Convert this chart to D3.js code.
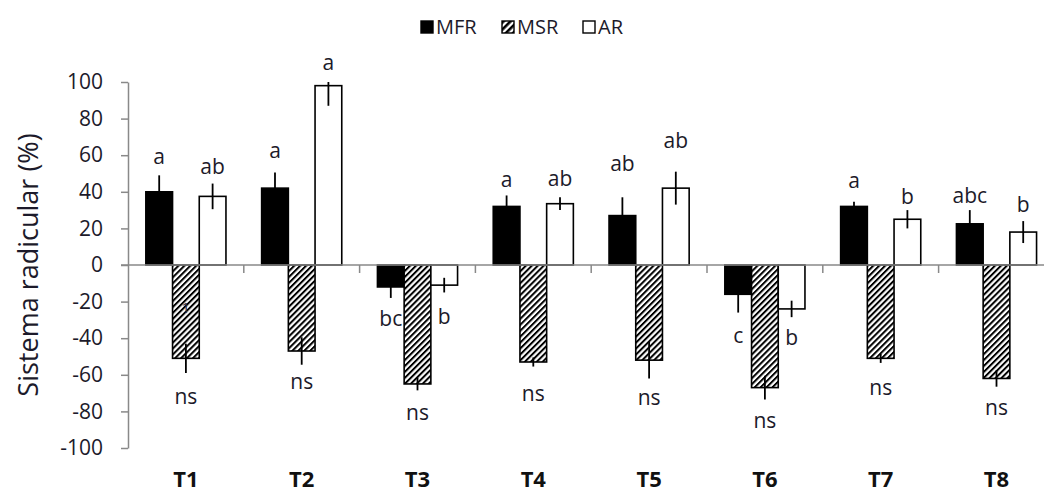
<!DOCTYPE html>
<html>
<head>
<meta charset="utf-8">
<script src="https://cdnjs.cloudflare.com/ajax/libs/d3/7.8.5/d3.min.js"></script>
<style>
  html, body { margin: 0; padding: 0; background: #fff; }
  svg { display: block; font-family: "Open Sans", sans-serif; }
</style>
</head>
<body>
<svg id="chart" width="1044" height="494"></svg>
<script>
// treatments and series
var categories = ["T1", "T2", "T3", "T4", "T5", "T6", "T7", "T8"];
var seriesNames = ["MFR", "MSR", "AR"];

// bar values (%)
var mfrValues = [40, 42, -12, 32, 27, -16, 32, 22.5];
var msrValues = [-51, -47, -65, -53, -52, -67, -51, -62];
var arValues = [37.5, 98, -11, 33.5, 42, -24, 25, 18];

// error bar half-lengths
var mfrErrors = [9, 8.5, 6, 6, 10, 10, 2.5, 7.5];
var msrErrors = [8, 7.5, 3.5, 2.5, 10, 6.5, 2.5, 4.5];
var arErrors = [7, 11, 4, 3.5, 9, 4.5, 5, 6];

// significance letters and the value height where each one sits
var mfrLetters = ["a", "a", "bc", "a", "ab", "c", "a", "abc"];
var msrLetters = ["ns", "ns", "ns", "ns", "ns", "ns", "ns", "ns"];
var arLetters = ["ab", "a", "b", "ab", "ab", "b", "b", "b"];
var mfrLetterAt = [55.3, 58.6, -33.4, 42.4, 51.5, -42.6, 42, 34.1];
var msrLetterAt = [-76.2, -67.9, -84.5, -74.5, -76.3, -89.2, -70.8, -81.8];
var arLetterAt = [49.9, 106.8, -32.5, 43.3, 63.9, -43.8, 33.6, 29.2];

var yTicks = [-100, -80, -60, -40, -20, 0, 20, 40, 60, 80, 100];

var svg = d3.select("#chart");

var plotLeft = 128, plotTop = 82, plotBottom = 448, step = 115.8;

// hatch pattern for MSR
var defs = svg.append("defs");
defs.append("pattern")
	.attr("id", "hatch")
	.attr("patternUnits", "userSpaceOnUse")
	.attr("width", 4.2).attr("height", 4.2)
	.attr("patternTransform", "rotate(45)")
	.call(function(p) {
		p.append("rect").attr("width", 4.2).attr("height", 4.2).attr("fill", "#fff");
		p.append("rect").attr("width", 2).attr("height", 4.2).attr("fill", "#000");
	});
defs.append("pattern")
	.attr("id", "hatchLegend")
	.attr("patternUnits", "userSpaceOnUse")
	.attr("width", 5).attr("height", 5)
	.attr("patternTransform", "rotate(45)")
	.call(function(p) {
		p.append("rect").attr("width", 5).attr("height", 5).attr("fill", "#fff");
		p.append("rect").attr("width", 2.6).attr("height", 5).attr("fill", "#000");
	});
defs.append("clipPath").attr("id", "plotClip")
	.append("rect").attr("x", plotLeft).attr("y", plotTop).attr("width", 1000).attr("height", plotBottom - plotTop);

// scales
var x = d3.scaleBand().domain(categories).range([plotLeft, plotLeft + step * categories.length]).padding(0);
var x1 = d3.scaleBand().domain(seriesNames).range([0, x.bandwidth()]).paddingInner(0).paddingOuter(0.668);
var y = d3.scaleLinear().domain([-100, 100]).range([plotBottom, plotTop]);

var series = [
	{ name: "MFR", values: mfrValues, errors: mfrErrors, letters: mfrLetters, at: mfrLetterAt, fill: "#000" },
	{ name: "MSR", values: msrValues, errors: msrErrors, letters: msrLetters, at: msrLetterAt, fill: "url(#hatch)" },
	{ name: "AR", values: arValues, errors: arErrors, letters: arLetters, at: arLetterAt, fill: "#fff" }
];

// y axis (plain hyphen minus like the original)
var yAxis = svg.append("g")
	.attr("transform", "translate(" + plotLeft + ",0)")
	.call(d3.axisLeft(y).tickValues(yTicks).tickFormat(function(d) { return String(d); })
		.tickSize(7).tickSizeOuter(0).tickPadding(18));
yAxis.select(".domain").attr("stroke", "#898989").attr("stroke-width", 1.5);
yAxis.selectAll(".tick line").attr("stroke", "#898989").attr("stroke-width", 1.5);
yAxis.selectAll(".tick text")
	.attr("font-family", "Open Sans").attr("font-size", 21).attr("fill", "#1c1a2a");

svg.append("text")
	.attr("transform", "translate(27," + y(0) + ") rotate(-90)")
	.attr("text-anchor", "middle")
	.attr("dominant-baseline", "central")
	.attr("font-size", 27)
	.attr("fill", "#1c1a2a")
	.text("Sistema radicular (%)");

// bars
var groups = svg.append("g").selectAll("g")
	.data(categories)
	.join("g")
	.attr("transform", function(d) { return "translate(" + x(d) + ",0)"; });

series.forEach(function(s) {
	groups.append("rect")
		.attr("x", x1(s.name))
		.attr("width", x1.bandwidth())
		.attr("y", function(d, i) { return y(Math.max(0, s.values[i])); })
		.attr("height", function(d, i) { return Math.abs(y(s.values[i]) - y(0)); })
		.attr("fill", s.fill)
		.attr("stroke", "#000")
		.attr("stroke-width", 1.6);
});

// zero line with category ticks
var xAxis = svg.append("g")
	.attr("transform", "translate(0," + y(0) + ")");
xAxis.append("line")
	.attr("x1", plotLeft - 7).attr("x2", 1044)
	.attr("stroke", "#898989").attr("stroke-width", 1.5);
xAxis.selectAll(".cat-tick")
	.data(categories.slice(1))
	.join("line")
	.attr("class", "cat-tick")
	.attr("x1", function(d) { return x(d); })
	.attr("x2", function(d) { return x(d); })
	.attr("y1", 0).attr("y2", 8)
	.attr("stroke", "#898989").attr("stroke-width", 1.5);

// error bars (clipped to the plot area like the original)
var errLayer = svg.append("g").attr("clip-path", "url(#plotClip)");
series.forEach(function(s) {
	errLayer.append("g").selectAll("line")
		.data(categories)
		.join("line")
		.attr("x1", function(d) { return x(d) + x1(s.name) + x1.bandwidth() / 2; })
		.attr("x2", function(d) { return x(d) + x1(s.name) + x1.bandwidth() / 2; })
		.attr("y1", function(d, i) { return y(s.values[i] + s.errors[i]); })
		.attr("y2", function(d, i) { return y(s.values[i] - s.errors[i]); })
		.attr("stroke", "#000")
		.attr("stroke-width", 1.8);
});

// letters
series.forEach(function(s) {
	svg.append("g").selectAll("text")
		.data(categories)
		.join("text")
		.attr("x", function(d) { return x(d) + x1(s.name) + x1.bandwidth() / 2; })
		.attr("y", function(d, i) { return y(s.at[i]); })
		.attr("text-anchor", "middle")
		.attr("font-size", 21)
		.attr("fill", "#1c1a2a")
		.text(function(d, i) { return s.letters[i]; });
});

// stray mark inside the first MSR bar
svg.append("text")
	.attr("x", x("T1") + x1("MSR") + x1.bandwidth() / 2)
	.attr("y", y(-26.5))
	.attr("text-anchor", "middle")
	.attr("font-size", 15)
	.attr("fill", "#2a2a40")
	.text("1");

// category labels
svg.append("g").selectAll("text")
	.data(categories)
	.join("text")
	.attr("x", function(d) { return x(d) + x.bandwidth() / 2; })
	.attr("y", 487)
	.attr("text-anchor", "middle")
	.attr("font-size", 22)
	.attr("font-weight", "bold")
	.attr("fill", "#111")
	.text(function(d) { return d; });

// legend
var legendX = [421, 502, 583];
var legend = svg.append("g").selectAll("g")
	.data(series)
	.join("g")
	.attr("transform", function(d, i) { return "translate(" + legendX[i] + ",21)"; });
legend.append("rect")
	.attr("width", 12).attr("height", 12)
	.attr("fill", function(d) { return d.name === "MSR" ? "url(#hatchLegend)" : d.fill; })
	.attr("stroke", "#000").attr("stroke-width", 1.4);
legend.append("text")
	.attr("x", 15).attr("y", 12.5)
	.attr("font-size", 20)
	.attr("fill", "#1c1a2a")
	.text(function(d) { return d.name; });
</script>
</body>
</html>
